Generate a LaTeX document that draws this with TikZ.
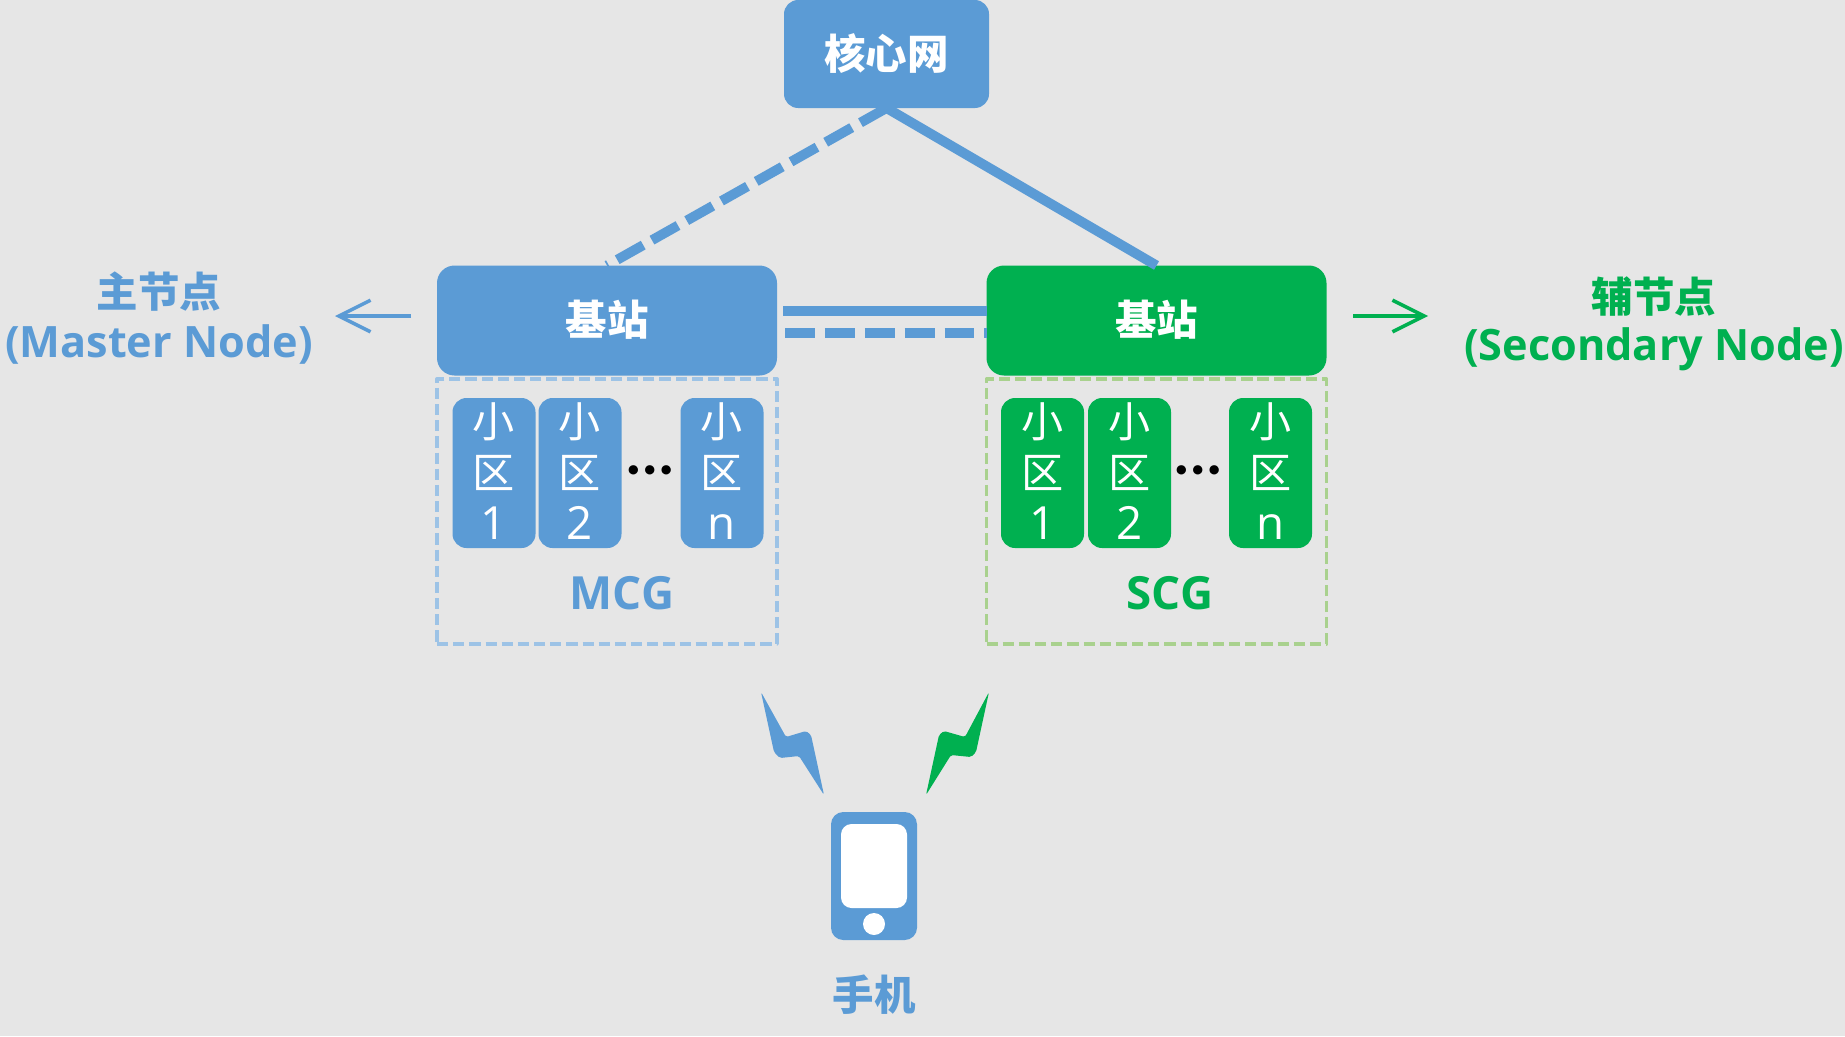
\documentclass[tikz,border=0pt]{standalone}
\usepackage{fontspec}
\setmainfont{Open Sans}
\newfontfamily\cjk{Noto Sans CJK SC}
\newfontfamily\dotsfont{Lato}
\usetikzlibrary{arrows.meta}
\definecolor{mblue}{HTML}{5B9BD5}
\definecolor{sgreen}{HTML}{00B050}
\definecolor{mlight}{HTML}{9DC3E6}
\definecolor{slight}{HTML}{A9D18E}
\definecolor{bgrey}{HTML}{E6E6E6}

\begin{document}
\begin{tikzpicture}[
	line join=round,
	every node/.style={inner sep=0pt, outer sep=0pt},
	title/.style={font=\cjk\bfseries\fontsize{11.8}{14}\selectfont},
	latin/.style={font=\bfseries\fontsize{12.3}{15}\selectfont},
	grouptext/.style={font=\bfseries\fontsize{13}{15}\selectfont},
	station/.style={rounded corners=5pt, minimum width=3.40cm, minimum height=1.10cm, text=white, title},
	cell/.style={rounded corners=4pt, minimum width=0.83cm, minimum height=1.50cm, text=white, align=center,
		font=\cjk\fontsize{12}{14.6}\selectfont},
	group/.style={draw, dash pattern=on 3.2pt off 1.4pt, line width=0.95pt, minimum width=3.40cm, minimum height=2.65cm},
	link/.style={draw=mblue, line width=2.8pt},
	dashlink/.style={link, dash pattern=on 8.5pt off 2.85pt},
	pointer/.style={-{Straight Barb[length=9pt,width=9pt,line width=1pt]}, line width=1pt}
	]
	
	\fill[bgrey] (0,0) rectangle (18.45,-10.36);
	\useasboundingbox (0,0) rectangle (18.45,-10.36);
	
	% Core network
	\node[rounded corners=4pt, fill=mblue, minimum width=2.05cm, minimum height=1.08cm, text=white, title] (core) at (8.865,-0.54) {核心网};
	
	% Master side
	\node[station, fill=mblue] (bsm) at (6.07,-3.205) {};
	\node[white, title] (bsmtext) at (6.07,-3.20) {基站};
	\node[group, draw=mlight] (mcg) at (6.07,-5.115) {};
	\begin{scope}[shift={(4.37,-4.73)}]
		\foreach \x/\n in {0.57/1,1.43/2,2.85/n}
		\node[cell, fill=mblue] (cellm\n) at (\x,0) {小\\区\\{\fontspec{Open Sans}\fontsize{13}{14.6}\selectfont\n}\rule[-1.1pt]{0pt}{0pt}};
		\node[font=\dotsfont\bfseries\fontsize{17.5}{18}\selectfont] (dotsm) at (2.13,0.03) {…};
	\end{scope}
	\node[text=mblue, grouptext] (mcgtext) at (6.22,-5.93) {MCG};
	
	% Secondary side
	\node[station, fill=sgreen] (bss) at (11.565,-3.205) {};
	\node[white, title] (bsstext) at (11.565,-3.20) {基站};
	\node[group, draw=slight] (scg) at (11.565,-5.115) {};
	\begin{scope}[shift={(9.865,-4.73)}]
		\foreach \x/\n in {0.56/1,1.43/2,2.84/n}
		\node[cell, fill=sgreen] (cells\n) at (\x,0) {小\\区\\{\fontspec{Open Sans}\fontsize{13}{14.6}\selectfont\n}\rule[-1.1pt]{0pt}{0pt}};
		\node[font=\dotsfont\bfseries\fontsize{17.5}{18}\selectfont] (dotss) at (2.12,0.03) {…};
	\end{scope}
	\node[text=sgreen, grouptext] (scgtext) at (11.70,-5.93) {SCG};
	
	% Links
	\draw[dashlink] (core.south) -- (bsm.north);
	\draw[link] (core.south) -- (bss.north);
	\draw[link] ([shift={(0.06,0.095)}]bsm.east) -- ([yshift=0.095cm]bss.west);
	\draw[dashlink] ([shift={(0.08,-0.125)}]bsm.east) -- ([yshift=-0.125cm]bss.west);
	
	% Side labels
	\node[text=mblue, title] (mastercn) at (1.59,-2.92) {主节点};
	\node[text=mblue, latin] (masteren) at (1.59,-3.44) {(Master Node)};
	\coordinate (mastera) at (4.11,-3.16);
	\coordinate (masterb) at (3.35,-3.16);
	\draw[pointer, mblue] (mastera) -- (masterb);
	
	\node[text=sgreen, title] (secondcn) at (16.54,-2.97) {辅节点};
	\node[text=sgreen, latin] (seconden) at (16.54,-3.49) {(Secondary Node)};
	\coordinate (seconda) at (13.53,-3.16);
	\coordinate (secondb) at (14.28,-3.16);
	\draw[pointer, sgreen] (seconda) -- (secondb);
	
	% Radio bolts
	\fill[mblue, rounded corners=0.5pt] (7.61,-6.92) -- (7.86,-7.37) -- (8.06,-7.31) -- (8.11,-7.35) -- (8.24,-7.95) -- (7.99,-7.56) -- (7.80,-7.58) -- (7.74,-7.52) -- cycle;
	\fill[sgreen, rounded corners=0.5pt] (9.89,-6.92) -- (9.65,-7.37) -- (9.44,-7.31) -- (9.39,-7.35) -- (9.26,-7.95) -- (9.51,-7.55) -- (9.71,-7.57) -- (9.76,-7.52) -- cycle;
	
	% Phone
	\node[rounded corners=3.5pt, fill=mblue, minimum width=0.86cm, minimum height=1.28cm] (phone) at (8.74,-8.76) {};
	\node[rounded corners=3pt, fill=white, minimum width=0.66cm, minimum height=0.84cm] (screen) at (8.74,-8.66) {};
	\node[circle, fill=white, minimum size=0.22cm] (button) at (8.74,-9.24) {};
	\node[text=mblue, title] (phonetext) at (8.74,-9.95) {手机};
	
\end{tikzpicture}
\end{document}
